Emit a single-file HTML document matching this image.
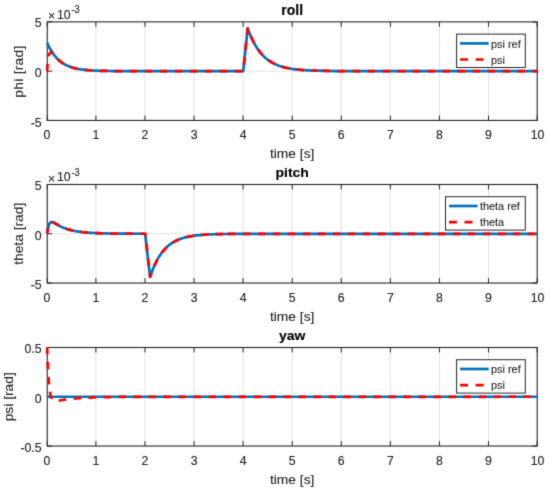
<!DOCTYPE html><html><head><meta charset="utf-8"><title>roll pitch yaw</title>
<style>html,body{margin:0;padding:0;background:#fff;width:550px;height:493px;overflow:hidden}svg{display:block}text{font-family:"Liberation Sans", Arial, Helvetica, sans-serif;fill:#262626;stroke:#262626;stroke-width:0.12px}text.b{fill:#000;stroke:#000}</style></head><body>
<svg width="550" height="493" viewBox="0 0 550 493">
<filter id="soft" x="0" y="0" width="550" height="493" filterUnits="userSpaceOnUse" color-interpolation-filters="sRGB"><feConvolveMatrix order="3" kernelMatrix="1 6 1 6 36 6 1 6 1" divisor="64" edgeMode="duplicate"/></filter>
<rect x="0" y="0" width="550" height="493" fill="#fff"/>
<g filter="url(#soft)">
<rect x="0" y="0" width="550" height="493" fill="#fff"/>
<defs><clipPath id="c0"><rect x="45.27" y="19.9" width="493.93" height="102.55"/></clipPath></defs>
<path d="M95.9 21.9V120.45M144.97 21.9V120.45M194.05 21.9V120.45M243.12 21.9V120.45M292.2 21.9V120.45M341.28 21.9V120.45M390.35 21.9V120.45M439.43 21.9V120.45M488.5 21.9V120.45M47.27 71.17H537.2" stroke="#dfdfdf" stroke-width="0.9" fill="none"/>
<path d="M47.27 120.45v-4.9M47.27 21.9v4.9M95.9 120.45v-4.9M95.9 21.9v4.9M144.97 120.45v-4.9M144.97 21.9v4.9M194.05 120.45v-4.9M194.05 21.9v4.9M243.12 120.45v-4.9M243.12 21.9v4.9M292.2 120.45v-4.9M292.2 21.9v4.9M341.28 120.45v-4.9M341.28 21.9v4.9M390.35 120.45v-4.9M390.35 21.9v4.9M439.43 120.45v-4.9M439.43 21.9v4.9M488.5 120.45v-4.9M488.5 21.9v4.9M537.2 120.45v-4.9M537.2 21.9v4.9M47.27 21.9h4.9M537.2 21.9h-4.9M47.27 71.17h4.9M537.2 71.17h-4.9M47.27 120.45h4.9M537.2 120.45h-4.9" stroke="#262626" stroke-width="1" fill="none"/>
<rect x="47.27" y="21.9" width="489.93" height="98.55" stroke="#262626" stroke-width="1.1" fill="none"/>
<g clip-path="url(#c0)">
<path d="M47.1 42.6 L48.08 44.79 L49.06 46.82 L50.97 50.34 L52.89 53.35 L54.8 55.92 L56.71 58.13 L58.62 60.01 L60.54 61.62 L62.45 63 L64.36 64.18 L66.27 65.19 L68.19 66.06 L70.1 66.8 L72.01 67.43 L73.92 67.97 L75.84 68.43 L77.75 68.83 L79.66 69.17 L81.58 69.46 L83.49 69.71 L85.4 69.92 L87.31 70.1 L89.23 70.25 L91.14 70.39 L93.05 70.5 L94.96 70.6 L96.88 70.68 L98.79 70.75 L100.7 70.81 L102.61 70.87 L104.53 70.91 L106.44 70.95 L108.35 70.98 L110.26 71.01 L112.18 71.03 L114.09 71.05 L116 71.07 L117.91 71.09 L119.83 71.1 L121.74 71.11 L123.65 71.12 L125.56 71.13 L242.77 71.17 L243.26 71.17 L247.67 28.31 L248.16 29.67 L250.13 34.69 L252.09 39.11 L254.05 42.99 L256.01 46.4 L257.97 49.4 L259.93 52.04 L261.9 54.35 L263.86 56.39 L265.82 58.18 L267.78 59.75 L269.74 61.14 L271.7 62.35 L273.66 63.42 L275.63 64.36 L277.59 65.18 L279.55 65.91 L281.51 66.55 L283.47 67.11 L285.43 67.6 L287.4 68.03 L289.36 68.41 L291.32 68.75 L293.28 69.04 L295.24 69.3 L297.2 69.53 L299.17 69.73 L301.13 69.9 L303.09 70.06 L305.05 70.19 L307.01 70.31 L308.97 70.41 L310.94 70.51 L312.9 70.59 L314.86 70.66 L316.82 70.72 L316.82 70.72 L326.63 70.94 L336.44 71.05 L346.24 71.11 L356.05 71.14 L365.86 71.16 L537.5 71.17" stroke="#0072bd" stroke-width="2.7" fill="none" stroke-linejoin="round"/>
<path d="M47.1 71.17 L48.08 55.9 L49.06 54.57 L50.97 51.97 L52.89 53.35 L54.8 55.92 L56.71 58.13 L58.62 60.01 L60.54 61.62 L62.45 63 L64.36 64.18 L66.27 65.19 L68.19 66.06 L70.1 66.8 L72.01 67.43 L73.92 67.97 L75.84 68.43 L77.75 68.83 L79.66 69.17 L81.58 69.46 L83.49 69.71 L85.4 69.92 L87.31 70.1 L89.23 70.25 L91.14 70.39 L93.05 70.5 L94.96 70.6 L96.88 70.68 L98.79 70.75 L100.7 70.81 L102.61 70.87 L104.53 70.91 L106.44 70.95 L108.35 70.98 L110.26 71.01 L112.18 71.03 L114.09 71.05 L116 71.07 L117.91 71.09 L119.83 71.1 L121.74 71.11 L123.65 71.12 L125.56 71.13 L242.77 71.17 L243.26 71.17 L247.67 28.31 L248.16 29.67 L250.13 34.69 L252.09 39.11 L254.05 42.99 L256.01 46.4 L257.97 49.4 L259.93 52.04 L261.9 54.35 L263.86 56.39 L265.82 58.18 L267.78 59.75 L269.74 61.14 L271.7 62.35 L273.66 63.42 L275.63 64.36 L277.59 65.18 L279.55 65.91 L281.51 66.55 L283.47 67.11 L285.43 67.6 L287.4 68.03 L289.36 68.41 L291.32 68.75 L293.28 69.04 L295.24 69.3 L297.2 69.53 L299.17 69.73 L301.13 69.9 L303.09 70.06 L305.05 70.19 L307.01 70.31 L308.97 70.41 L310.94 70.51 L312.9 70.59 L314.86 70.66 L316.82 70.72" stroke="#ff0000" stroke-width="2.7" fill="none" stroke-dasharray="7.5 7.5" stroke-dashoffset="0.24" stroke-linejoin="round"/>
<path d="M316.82 70.72 L326.63 70.94 L336.44 71.05 L346.24 71.11 L356.05 71.14 L365.86 71.16 L537.5 71.17" stroke="#ff0000" stroke-width="2.7" fill="none" stroke-dasharray="7.5 7.5" stroke-dashoffset="9.32" stroke-linejoin="round"/>
</g>
<text transform="translate(46.82 138.95)" font-size="12.3" text-anchor="middle">0</text>
<text transform="translate(95.9 138.95)" font-size="12.3" text-anchor="middle">1</text>
<text transform="translate(144.97 138.95)" font-size="12.3" text-anchor="middle">2</text>
<text transform="translate(194.05 138.95)" font-size="12.3" text-anchor="middle">3</text>
<text transform="translate(243.12 138.95)" font-size="12.3" text-anchor="middle">4</text>
<text transform="translate(292.2 138.95)" font-size="12.3" text-anchor="middle">5</text>
<text transform="translate(341.28 138.95)" font-size="12.3" text-anchor="middle">6</text>
<text transform="translate(390.35 138.95)" font-size="12.3" text-anchor="middle">7</text>
<text transform="translate(439.43 138.95)" font-size="12.3" text-anchor="middle">8</text>
<text transform="translate(488.5 138.95)" font-size="12.3" text-anchor="middle">9</text>
<text transform="translate(537.58 138.95)" font-size="12.3" text-anchor="middle">10</text>
<text transform="translate(41.6 27)" font-size="12.3" text-anchor="end">5</text>
<text transform="translate(41.6 77.08)" font-size="12.3" text-anchor="end">0</text>
<text transform="translate(41.6 126.55)" font-size="12.3" text-anchor="end">-5</text>
<text transform="translate(47.9 19.9)" font-size="12.3">×</text>
<text transform="translate(56.9 18.5)" font-size="12.3">10</text>
<text transform="translate(71.4 13.3) scale(1 1.1)" font-size="9.3">-3</text>
<text transform="translate(292.2 157.95) scale(1 0.91)" font-size="13.8" text-anchor="middle">time [s]</text>
<text transform="translate(23.4 71.67) rotate(-90) scale(1 0.91)" font-size="13.8" text-anchor="middle" textLength="52" lengthAdjust="spacing">phi [rad]</text>
<text transform="translate(292.2 14.7)" font-size="14" text-anchor="middle" font-weight="bold" class="b">roll</text>
<rect x="456.6" y="34.1" width="68.7" height="33.4" fill="#fff" stroke="#262626" stroke-width="1"/>
<path d="M460.1 43.4H488.7" stroke="#0072bd" stroke-width="2.7"/>
<path d="M460.1 59.5H488.7" stroke="#ff0000" stroke-width="2.7" stroke-dasharray="7.9 7.6"/>
<text transform="translate(491 47.7) scale(1 0.95)" font-size="10.9">psi ref</text>
<text transform="translate(491 63.8) scale(1 0.95)" font-size="10.9">psi</text>
<defs><clipPath id="c1"><rect x="45.27" y="182.5" width="493.93" height="102.55"/></clipPath></defs>
<path d="M95.9 184.5V283.05M144.97 184.5V283.05M194.05 184.5V283.05M243.12 184.5V283.05M292.2 184.5V283.05M341.28 184.5V283.05M390.35 184.5V283.05M439.43 184.5V283.05M488.5 184.5V283.05M47.27 233.78H537.2" stroke="#dfdfdf" stroke-width="0.9" fill="none"/>
<path d="M47.27 283.05v-4.9M47.27 184.5v4.9M95.9 283.05v-4.9M95.9 184.5v4.9M144.97 283.05v-4.9M144.97 184.5v4.9M194.05 283.05v-4.9M194.05 184.5v4.9M243.12 283.05v-4.9M243.12 184.5v4.9M292.2 283.05v-4.9M292.2 184.5v4.9M341.28 283.05v-4.9M341.28 184.5v4.9M390.35 283.05v-4.9M390.35 184.5v4.9M439.43 283.05v-4.9M439.43 184.5v4.9M488.5 283.05v-4.9M488.5 184.5v4.9M537.2 283.05v-4.9M537.2 184.5v4.9M47.27 184.5h4.9M537.2 184.5h-4.9M47.27 233.78h4.9M537.2 233.78h-4.9M47.27 283.05h4.9M537.2 283.05h-4.9" stroke="#262626" stroke-width="1" fill="none"/>
<rect x="47.27" y="184.5" width="489.93" height="98.55" stroke="#262626" stroke-width="1.1" fill="none"/>
<g clip-path="url(#c1)">
<path d="M47.1 233.78 L47.59 230.3 L48.08 227.71 L48.57 225.81 L49.06 224.43 L49.55 223.46 L50.04 222.8 L50.53 222.38 L51.02 222.15 L51.51 222.06 L52 222.08 L52.49 222.18 L52.98 222.34 L53.48 222.54 L53.97 222.77 L54.46 223.03 L54.95 223.3 L55.44 223.58 L55.93 223.87 L56.42 224.15 L56.91 224.44 L57.4 224.72 L57.89 225 L58.38 225.27 L58.87 225.54 L59.36 225.8 L59.85 226.06 L60.34 226.3 L60.83 226.54 L61.32 226.78 L61.81 227.01 L62.79 227.44 L64.89 228.28 L66.98 229 L69.07 229.64 L71.16 230.18 L73.25 230.66 L75.35 231.07 L77.44 231.43 L79.53 231.74 L81.62 232.01 L83.72 232.25 L85.81 232.45 L87.9 232.62 L89.99 232.78 L92.09 232.91 L94.18 233.02 L96.27 233.12 L98.36 233.21 L100.46 233.28 L102.55 233.35 L104.64 233.41 L106.73 233.45 L108.83 233.5 L110.92 233.53 L113.01 233.57 L115.1 233.59 L117.19 233.62 L119.29 233.64 L121.38 233.66 L123.47 233.67 L125.56 233.69 L144.69 233.75 L145.18 233.78 L150.08 276.84 L151.06 273.97 L153.03 268.79 L154.99 264.28 L156.95 260.35 L158.91 256.93 L160.87 253.94 L162.83 251.34 L164.8 249.08 L166.76 247.11 L168.72 245.39 L170.68 243.89 L172.64 242.59 L174.6 241.45 L176.57 240.47 L178.53 239.6 L180.49 238.85 L182.45 238.2 L184.41 237.63 L186.37 237.13 L188.34 236.7 L190.3 236.32 L192.26 235.99 L194.22 235.71 L196.18 235.46 L198.14 235.24 L200.1 235.05 L202.07 234.89 L204.03 234.75 L205.99 234.62 L207.95 234.51 L209.91 234.42 L211.87 234.33 L213.84 234.26 L215.8 234.2 L217.76 234.14 L219.72 234.1 L221.68 234.06 L223.64 234.02 L223.64 234.02 L233.45 233.9 L243.26 233.84 L253.07 233.81 L262.88 233.79 L272.68 233.78 L537.5 233.78" stroke="#0072bd" stroke-width="2.7" fill="none" stroke-linejoin="round"/>
<path d="M47.1 233.78 L47.59 230.3 L48.08 227.71 L48.57 225.81 L49.06 224.43 L49.55 223.46 L50.04 222.8 L50.53 222.38 L51.02 222.15 L51.51 222.06 L52 222.08 L52.49 222.18 L52.98 222.34 L53.48 222.54 L53.97 222.77 L54.46 223.03 L54.95 223.3 L55.44 223.58 L55.93 223.87 L56.42 224.15 L56.91 224.44 L57.4 224.72 L57.89 225 L58.38 225.27 L58.87 225.54 L59.36 225.8 L59.85 226.06 L60.34 226.3 L60.83 226.54 L61.32 226.78 L61.81 227.01 L62.79 227.44 L64.89 228.28 L66.98 229 L69.07 229.64 L71.16 230.18 L73.25 230.66 L75.35 231.07 L77.44 231.43 L79.53 231.74 L81.62 232.01 L83.72 232.25 L85.81 232.45 L87.9 232.62 L89.99 232.78 L92.09 232.91 L94.18 233.02 L96.27 233.12 L98.36 233.21 L100.46 233.28 L102.55 233.35 L104.64 233.41 L106.73 233.45 L108.83 233.5 L110.92 233.53 L113.01 233.57 L115.1 233.59 L117.19 233.62 L119.29 233.64 L121.38 233.66 L123.47 233.67 L125.56 233.69 L144.69 233.75 L145.18 233.78 L150.08 276.84 L151.06 273.97 L153.03 268.79 L154.99 264.28 L156.95 260.35 L158.91 256.93 L160.87 253.94 L162.83 251.34 L164.8 249.08 L166.76 247.11 L168.72 245.39 L170.68 243.89 L172.64 242.59 L174.6 241.45 L176.57 240.47 L178.53 239.6 L180.49 238.85 L182.45 238.2 L184.41 237.63 L186.37 237.13 L188.34 236.7 L190.3 236.32 L192.26 235.99 L194.22 235.71 L196.18 235.46 L198.14 235.24 L200.1 235.05 L202.07 234.89 L204.03 234.75 L205.99 234.62 L207.95 234.51 L209.91 234.42 L211.87 234.33 L213.84 234.26 L215.8 234.2 L217.76 234.14 L219.72 234.1 L221.68 234.06 L223.64 234.02" stroke="#ff0000" stroke-width="2.7" fill="none" stroke-dasharray="7.5 7.5" stroke-dashoffset="1.29" stroke-linejoin="round"/>
<path d="M223.64 234.02 L233.45 233.9 L243.26 233.84 L253.07 233.81 L262.88 233.79 L272.68 233.78 L537.5 233.78" stroke="#ff0000" stroke-width="2.7" fill="none" stroke-dasharray="7.5 7.5" stroke-dashoffset="10.84" stroke-linejoin="round"/>
</g>
<text transform="translate(46.82 301.55)" font-size="12.3" text-anchor="middle">0</text>
<text transform="translate(95.9 301.55)" font-size="12.3" text-anchor="middle">1</text>
<text transform="translate(144.97 301.55)" font-size="12.3" text-anchor="middle">2</text>
<text transform="translate(194.05 301.55)" font-size="12.3" text-anchor="middle">3</text>
<text transform="translate(243.12 301.55)" font-size="12.3" text-anchor="middle">4</text>
<text transform="translate(292.2 301.55)" font-size="12.3" text-anchor="middle">5</text>
<text transform="translate(341.28 301.55)" font-size="12.3" text-anchor="middle">6</text>
<text transform="translate(390.35 301.55)" font-size="12.3" text-anchor="middle">7</text>
<text transform="translate(439.43 301.55)" font-size="12.3" text-anchor="middle">8</text>
<text transform="translate(488.5 301.55)" font-size="12.3" text-anchor="middle">9</text>
<text transform="translate(537.58 301.55)" font-size="12.3" text-anchor="middle">10</text>
<text transform="translate(41.6 189.6)" font-size="12.3" text-anchor="end">5</text>
<text transform="translate(41.6 239.68)" font-size="12.3" text-anchor="end">0</text>
<text transform="translate(41.6 289.15)" font-size="12.3" text-anchor="end">-5</text>
<text transform="translate(47.9 182.5)" font-size="12.3">×</text>
<text transform="translate(56.9 181.1)" font-size="12.3">10</text>
<text transform="translate(71.4 175.9) scale(1 1.1)" font-size="9.3">-3</text>
<text transform="translate(292.2 320.55) scale(1 0.91)" font-size="13.8" text-anchor="middle">time [s]</text>
<text transform="translate(23.4 233.78) rotate(-90) scale(1 0.91)" font-size="13.8" text-anchor="middle">theta [rad]</text>
<text transform="translate(292.2 177.1) scale(1 0.96)" font-size="14" text-anchor="middle" font-weight="bold" class="b">pitch</text>
<rect x="445.5" y="196.7" width="79.8" height="33.4" fill="#fff" stroke="#262626" stroke-width="1"/>
<path d="M449 206H477.6" stroke="#0072bd" stroke-width="2.7"/>
<path d="M449 222.1H477.6" stroke="#ff0000" stroke-width="2.7" stroke-dasharray="7.9 7.6"/>
<text transform="translate(479.9 210.3) scale(1 0.95)" font-size="10.9">theta ref</text>
<text transform="translate(479.9 226.4) scale(1 0.95)" font-size="10.9">theta</text>
<defs><clipPath id="c2"><rect x="45.27" y="345.5" width="493.93" height="102.55"/></clipPath></defs>
<path d="M95.9 347.5V446.05M144.97 347.5V446.05M194.05 347.5V446.05M243.12 347.5V446.05M292.2 347.5V446.05M341.28 347.5V446.05M390.35 347.5V446.05M439.43 347.5V446.05M488.5 347.5V446.05M47.27 396.77H537.2" stroke="#dfdfdf" stroke-width="0.9" fill="none"/>
<path d="M47.27 446.05v-4.9M47.27 347.5v4.9M95.9 446.05v-4.9M95.9 347.5v4.9M144.97 446.05v-4.9M144.97 347.5v4.9M194.05 446.05v-4.9M194.05 347.5v4.9M243.12 446.05v-4.9M243.12 347.5v4.9M292.2 446.05v-4.9M292.2 347.5v4.9M341.28 446.05v-4.9M341.28 347.5v4.9M390.35 446.05v-4.9M390.35 347.5v4.9M439.43 446.05v-4.9M439.43 347.5v4.9M488.5 446.05v-4.9M488.5 347.5v4.9M537.2 446.05v-4.9M537.2 347.5v4.9M47.27 347.5h4.9M537.2 347.5h-4.9M47.27 396.77h4.9M537.2 396.77h-4.9M47.27 446.05h4.9M537.2 446.05h-4.9" stroke="#262626" stroke-width="1" fill="none"/>
<rect x="47.27" y="347.5" width="489.93" height="98.55" stroke="#262626" stroke-width="1.1" fill="none"/>
<g clip-path="url(#c2)">
<path d="M47.1 396.77 L537.5 396.77" stroke="#0072bd" stroke-width="2.7" fill="none" stroke-linejoin="round"/>
<path d="M47.1 347.5 L47.35 354.91 L47.59 361.31 L47.84 366.85 L48.08 371.64 L48.33 375.78 L48.57 379.35 L48.82 382.45 L49.06 385.12 L49.31 387.42 L49.55 389.41 L49.8 391.13 L50.04 392.61 L50.29 393.88 L50.53 394.97 L50.78 395.92 L51.02 396.73 L51.27 397.42 L51.51 398.01 L51.76 398.52 L52 398.95 L52.25 399.32 L52.49 399.63 L52.74 399.89 L52.98 400.11 L53.23 400.29 L53.48 400.44 L53.72 400.57 L53.97 400.67 L54.21 400.75 L54.46 400.81 L54.7 400.86 L54.95 400.89 L55.19 400.91 L55.44 400.93 L55.68 400.93 L55.93 400.93 L56.17 400.92 L56.42 400.9 L56.66 400.89 L56.91 400.86 L57.4 400.81 L59.15 400.55 L60.91 400.26 L62.67 399.97 L64.42 399.71 L66.18 399.46 L67.93 399.23 L69.69 399.02 L71.44 398.83 L73.2 398.65 L74.95 398.49 L76.71 398.34 L78.47 398.21 L80.22 398.09 L81.98 397.97 L83.73 397.87 L85.49 397.78 L87.24 397.69 L89 397.61 L90.76 397.54 L92.51 397.48 L94.27 397.42 L96.02 397.36 L97.78 397.31 L99.53 397.26 L101.29 397.22 L103.04 397.18 L104.8 397.15 L106.56 397.12 L108.31 397.09 L110.07 397.06 L111.82 397.04 L113.58 397.01 L115.33 396.99 L117.09 396.98 L118.85 396.96 L120.6 396.94 L122.36 396.93 L124.11 396.91 L125.87 396.9 L127.62 396.89 L129.38 396.88 L131.13 396.87 L132.89 396.86 L134.65 396.86 L136.4 396.85 L138.16 396.84 L139.91 396.84 L141.67 396.83 L143.42 396.83 L145.18 396.82 L537.5 396.77" stroke="#ff0000" stroke-width="2.7" fill="none" stroke-dasharray="7.5 7.5" stroke-dashoffset="0.67" stroke-linejoin="round"/>
</g>
<text transform="translate(46.82 464.55)" font-size="12.3" text-anchor="middle">0</text>
<text transform="translate(95.9 464.55)" font-size="12.3" text-anchor="middle">1</text>
<text transform="translate(144.97 464.55)" font-size="12.3" text-anchor="middle">2</text>
<text transform="translate(194.05 464.55)" font-size="12.3" text-anchor="middle">3</text>
<text transform="translate(243.12 464.55)" font-size="12.3" text-anchor="middle">4</text>
<text transform="translate(292.2 464.55)" font-size="12.3" text-anchor="middle">5</text>
<text transform="translate(341.28 464.55)" font-size="12.3" text-anchor="middle">6</text>
<text transform="translate(390.35 464.55)" font-size="12.3" text-anchor="middle">7</text>
<text transform="translate(439.43 464.55)" font-size="12.3" text-anchor="middle">8</text>
<text transform="translate(488.5 464.55)" font-size="12.3" text-anchor="middle">9</text>
<text transform="translate(537.58 464.55)" font-size="12.3" text-anchor="middle">10</text>
<text transform="translate(41.6 352.6)" font-size="12.3" text-anchor="end">0.5</text>
<text transform="translate(41.6 402.67)" font-size="12.3" text-anchor="end">0</text>
<text transform="translate(41.6 452.15)" font-size="12.3" text-anchor="end">-0.5</text>
<text transform="translate(292.2 483.55) scale(1 0.91)" font-size="13.8" text-anchor="middle">time [s]</text>
<text transform="translate(13.1 396.77) rotate(-90) scale(1 0.91)" font-size="13.8" text-anchor="middle">psi [rad]</text>
<text transform="translate(292.2 340) scale(1 0.88)" font-size="14" text-anchor="middle" font-weight="bold" class="b">yaw</text>
<rect x="456.6" y="359.7" width="68.7" height="33.4" fill="#fff" stroke="#262626" stroke-width="1"/>
<path d="M460.1 369H488.7" stroke="#0072bd" stroke-width="2.7"/>
<path d="M460.1 385.1H488.7" stroke="#ff0000" stroke-width="2.7" stroke-dasharray="7.9 7.6"/>
<text transform="translate(491 373.3) scale(1 0.95)" font-size="10.9">psi ref</text>
<text transform="translate(491 389.4) scale(1 0.95)" font-size="10.9">psi</text>
</g></svg></body></html>
